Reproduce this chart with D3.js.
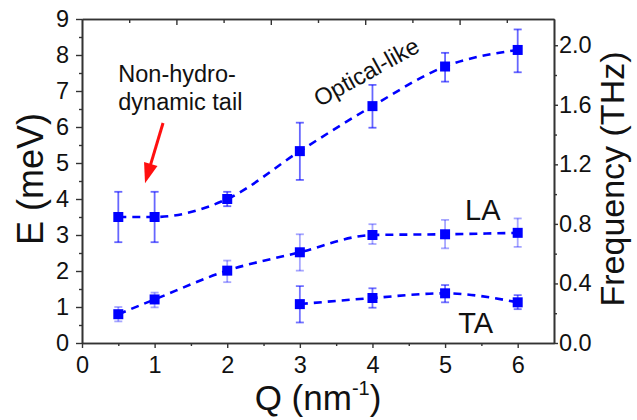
<!DOCTYPE html>
<html><head><meta charset="utf-8">
<script src="https://cdn.jsdelivr.net/npm/d3@7"></script>
<style>
body{margin:0;background:#fff;}
text{font-family:"Liberation Sans",Arial,sans-serif;fill:#111;}
</style></head>
<body><svg id="c" width="637" height="420"></svg>
<script>
// ---- data ----
const opticalQ   = [0.5, 1, 2, 3, 4, 5, 6];
const opticalE   = [3.5, 3.5, 4.0, 5.33, 6.58, 7.68, 8.14];
const opticalLo  = [2.8, 2.8, 3.8, 4.53, 5.98, 7.26, 7.52];
const opticalHi  = [4.2, 4.2, 4.2, 6.12, 7.17, 8.06, 8.71];

const laQ  = [0.5, 1, 2, 3, 4, 5, 6];
const laE  = [0.8, 1.21, 2.01, 2.52, 3.0, 3.02, 3.06];
const laLo = [0.6, 0.99, 1.69, 2.01, 2.75, 2.63, 2.67];
const laHi = [1.0, 1.4, 2.29, 3.02, 3.3, 3.42, 3.46];

const taQ  = [3, 4, 5, 6];
const taE  = [1.08, 1.25, 1.38, 1.13];
const taLo = [0.57, 0.98, 1.13, 0.94];
const taHi = [1.58, 1.52, 1.61, 1.33];

const leftTicks  = [0,1,2,3,4,5,6,7,8,9];
const bottomTicks = [0,1,2,3,4,5,6];
const rightTicks = ["0.0","0.4","0.8","1.2","1.6","2.0"];
const meVperTHz = 4.1357;

// ---- layout ----
const svg = d3.select("#c");
const L = 82, R = 554, T = 19, B = 343;
const x = d3.scaleLinear().domain([0, 6.5]).range([L, R]);
const y = d3.scaleLinear().domain([0, 9]).range([B, T]);
const yR = d3.scaleLinear().domain([0, 9 / meVperTHz]).range([B, T]);
const xTop = d3.scaleLinear().domain([0, 5]).range([L, R]);

const axisColor = "#333";
const tickFont = 23.5;
function styleAxis(g){
  g.select(".domain").attr("stroke", axisColor).attr("stroke-width", 1.6);
  g.selectAll(".tick line").attr("stroke", axisColor).attr("stroke-width", 1.4);
  g.selectAll(".tick text").style("font-family", '"Liberation Sans",Arial,sans-serif').attr("fill","#111");
}

const half = v => d3.range(v.length - 1).map(i => (v[i] + v[i+1]) / 2);

// left
svg.append("g").attr("transform", `translate(${L},0)`)
  .call(d3.axisLeft(y).tickValues(half(leftTicks)).tickSize(3).tickFormat("").tickSizeOuter(0))
  .call(styleAxis);
svg.append("g").attr("transform", `translate(${L},0)`)
  .call(d3.axisLeft(y).tickValues(leftTicks).tickSize(6).tickPadding(7).tickFormat(d3.format("d")).tickSizeOuter(0))
  .call(styleAxis).call(g => g.selectAll(".tick text").attr("font-size", tickFont));

// bottom
svg.append("g").attr("transform", `translate(0,${B})`)
  .call(d3.axisBottom(x).tickValues(half(bottomTicks)).tickSize(3).tickFormat("").tickSizeOuter(0))
  .call(styleAxis);
svg.append("g").attr("transform", `translate(0,${B})`)
  .call(d3.axisBottom(x).tickValues(bottomTicks).tickSize(5).tickPadding(8).tickFormat(d3.format("d")).tickSizeOuter(0))
  .call(styleAxis).call(g => g.selectAll(".tick text").attr("font-size", tickFont));

// top (ticks only, pointing inward)
svg.append("g").attr("transform", `translate(0,${T})`)
  .call(d3.axisBottom(xTop).tickValues([0.5,1.5,2.5,3.5,4.5]).tickSize(4).tickFormat("").tickSizeOuter(0))
  .call(styleAxis);
svg.append("g").attr("transform", `translate(0,${T})`)
  .call(d3.axisBottom(xTop).tickValues([1,2,3,4]).tickSize(6).tickFormat("").tickSizeOuter(0))
  .call(styleAxis);

// right
const rightVals = rightTicks.map(Number);
svg.append("g").attr("transform", `translate(${R},0)`)
  .call(d3.axisRight(yR).tickValues([0.2,0.6,1.0,1.4,1.8]).tickSize(3).tickFormat("").tickSizeOuter(0))
  .call(styleAxis);
svg.append("g").attr("transform", `translate(${R},0)`)
  .call(d3.axisRight(yR).tickValues(rightVals).tickSize(4).tickPadding(1).tickFormat((d,i) => rightTicks[i]).tickSizeOuter(0))
  .call(styleAxis).call(g => g.selectAll(".tick text").attr("font-size", tickFont));

// ---- series ----
const blue = "#0000ff";
function series(Q, E, Lo, Hi, barOpacity){
  const pts = Q.map((q,i) => ({q, e:E[i], lo:Lo[i], hi:Hi[i]}));
  const g = svg.append("g");
  const eb = g.selectAll("g.eb").data(pts).enter().append("g")
    .attr("stroke", blue).attr("stroke-opacity", barOpacity).attr("stroke-width", 1.8);
  eb.append("line").attr("x1", d => x(d.q)).attr("x2", d => x(d.q)).attr("y1", d => y(d.lo)).attr("y2", d => y(d.hi));
  eb.append("line").attr("x1", d => x(d.q)-4).attr("x2", d => x(d.q)+4).attr("y1", d => y(d.lo)).attr("y2", d => y(d.lo));
  eb.append("line").attr("x1", d => x(d.q)-4).attr("x2", d => x(d.q)+4).attr("y1", d => y(d.hi)).attr("y2", d => y(d.hi));
  g.append("path").datum(pts)
    .attr("d", d3.line().x(d => x(d.q)).y(d => y(d.e)).curve(d3.curveMonotoneX))
    .attr("fill", "none").attr("stroke", blue).attr("stroke-width", 2.6).attr("stroke-dasharray", "8,6");
  g.selectAll("rect").data(pts).enter().append("rect")
    .attr("x", d => x(d.q)-5).attr("y", d => y(d.e)-5).attr("width", 10).attr("height", 10)
    .attr("fill", blue);
}
series(opticalQ, opticalE, opticalLo, opticalHi, 0.6);
series(laQ, laE, laLo, laHi, 0.35);
series(taQ, taE, taLo, taHi, 0.55);

// ---- annotations ----
const arrowTail = [1.116, 6.11], arrowTip = [0.868, 4.44];
(function(){
  const x0 = x(arrowTail[0]), y0 = y(arrowTail[1]), x1 = x(arrowTip[0]), y1 = y(arrowTip[1]);
  const dx = x1-x0, dy = y1-y0, len = Math.hypot(dx,dy), ux = dx/len, uy = dy/len;
  const hl = 20, hw = 7;
  const bx = x1 - ux*hl, by = y1 - uy*hl;
  svg.append("line").attr("x1", x0).attr("y1", y0).attr("x2", bx+ux*2).attr("y2", by+uy*2)
    .attr("stroke", "#ff1010").attr("stroke-width", 3);
  svg.append("path").attr("d", `M${x1},${y1}L${bx - uy*hw},${by + ux*hw}L${bx + uy*hw},${by - ux*hw}Z`)
    .attr("fill", "#ff1010");
})();

svg.append("text").attr("x", x(0.5)).attr("y", y(7.25)).attr("font-size", 23.5).text("Non-hydro-");
svg.append("text").attr("x", x(0.5)).attr("y", y(6.47)).attr("font-size", 23.5).text("dynamic tail");
svg.append("text").attr("transform", `translate(${x(3.97)},${y(7.33)}) rotate(-29)`)
  .attr("text-anchor", "middle").attr("font-size", 23.5).text("Optical-like");
svg.append("text").attr("x", x(5.275)).attr("y", y(3.42)).attr("font-size", 29).text("LA");
svg.append("text").attr("x", x(5.18)).attr("y", y(0.28)).attr("font-size", 29).text("TA");

// axis titles
svg.append("text").attr("transform", `translate(43,179) rotate(-90)`)
  .attr("text-anchor", "middle").attr("font-size", 36).text("E (meV)");
svg.append("text").attr("transform", `translate(624,179) rotate(-90)`)
  .attr("text-anchor", "middle").attr("font-size", 34).text("Frequency (THz)");
const qt = svg.append("text").attr("x", 318).attr("y", 410).attr("text-anchor", "middle").attr("font-size", 35);
qt.append("tspan").text("Q (nm");
qt.append("tspan").attr("font-size", 20).attr("dy", -15).text("-1");
qt.append("tspan").attr("dy", 15).text(")");
</script></body></html>
